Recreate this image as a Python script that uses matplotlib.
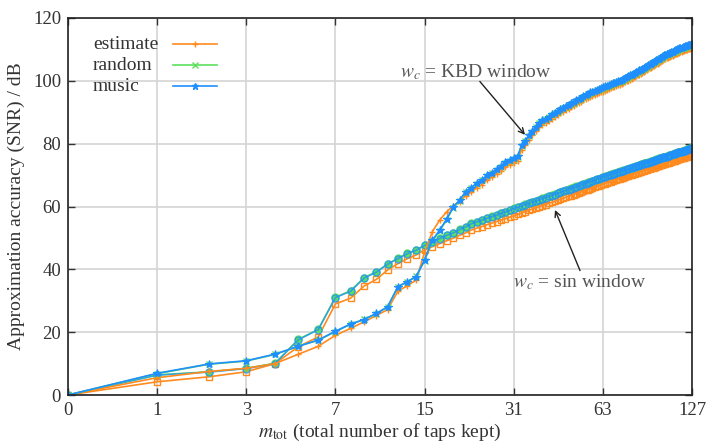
import numpy as np
import matplotlib
matplotlib.use("Agg")
import matplotlib.pyplot as plt
from matplotlib.lines import Line2D

plt.rcParams['font.family'] = ['Liberation Serif', 'DejaVu Serif']
plt.rcParams['mathtext.fontset'] = 'stix'

# number of taps kept, 0..127
m_tot = np.arange(128)
x_ticks = [0, 1, 3, 7, 15, 31, 63, 127]
y_ticks = [0, 20, 40, 60, 80, 100, 120]

# sin window
sin_random = [
    0.0, 6.4, 7.4, 8.5, 10.1, 17.7, 20.9, 31.1, 33.2, 37.4, 39.2, 41.7, 43.5, 45.1, 46.2, 47.7,
    48.8, 49.9, 50.9, 51.7, 52.7, 53.6, 54.6, 55.2, 55.8, 56.4, 56.9, 57.4, 57.9, 58.4, 58.9, 59.4,
    59.8, 60.2, 60.7, 61.1, 61.5, 61.8, 62.2, 62.6, 62.9, 63.3, 63.6, 63.9, 64.3, 64.6, 64.9, 65.2,
    65.5, 65.8, 66.1, 66.4, 66.6, 66.9, 67.2, 67.4, 67.7, 67.9, 68.2, 68.4, 68.7, 68.9, 69.1, 69.4,
    69.6, 69.8, 70.0, 70.2, 70.4, 70.6, 70.8, 71.0, 71.2, 71.3, 71.5, 71.7, 71.9, 72.0, 72.2, 72.4,
    72.6, 72.7, 72.9, 73.0, 73.2, 73.4, 73.5, 73.7, 73.8, 74.0, 74.1, 74.3, 74.4, 74.6, 74.7, 74.8,
    75.0, 75.1, 75.3, 75.4, 75.5, 75.7, 75.8, 75.9, 76.0, 76.2, 76.3, 76.4, 76.5, 76.7, 76.8, 76.9,
    77.0, 77.1, 77.3, 77.4, 77.5, 77.6, 77.7, 77.8, 77.9, 78.1, 78.2, 78.3, 78.4, 78.5, 78.6, 78.7,
]
sin_music = [
    0.0, 6.3, 7.3, 8.4, 10.0, 17.6, 20.8, 31.0, 33.0, 37.2, 39.1, 41.6, 43.4, 45.0, 46.1, 47.6,
    48.7, 49.8, 50.8, 51.6, 52.6, 53.5, 54.5, 55.1, 55.7, 56.3, 56.8, 57.3, 57.8, 58.3, 58.8, 59.3,
    59.7, 60.1, 60.6, 61.0, 61.4, 61.7, 62.1, 62.5, 62.8, 63.2, 63.5, 63.8, 64.2, 64.5, 64.8, 65.1,
    65.4, 65.7, 66.0, 66.3, 66.5, 66.8, 67.1, 67.3, 67.6, 67.8, 68.1, 68.3, 68.6, 68.8, 69.0, 69.3,
    69.5, 69.7, 69.9, 70.1, 70.3, 70.5, 70.7, 70.9, 71.1, 71.2, 71.4, 71.6, 71.8, 71.9, 72.1, 72.3,
    72.5, 72.6, 72.8, 72.9, 73.1, 73.3, 73.4, 73.6, 73.7, 73.9, 74.0, 74.2, 74.3, 74.5, 74.6, 74.7,
    74.9, 75.0, 75.2, 75.3, 75.4, 75.6, 75.7, 75.8, 75.9, 76.1, 76.2, 76.3, 76.4, 76.6, 76.7, 76.8,
    76.9, 77.0, 77.2, 77.3, 77.4, 77.5, 77.6, 77.7, 77.8, 78.0, 78.1, 78.2, 78.3, 78.4, 78.5, 78.6,
]
sin_estimate = [
    0.0, 4.2, 5.8, 7.4, 10.0, 15.4, 18.5, 29.0, 30.8, 34.7, 36.8, 39.8, 41.8, 43.4, 44.6, 46.2,
    47.2, 48.2, 49.1, 49.9, 50.8, 51.6, 52.5, 53.1, 53.6, 54.2, 54.7, 55.2, 55.7, 56.1, 56.6, 57.0,
    57.5, 57.9, 58.4, 58.8, 59.2, 59.5, 59.9, 60.3, 60.6, 61.0, 61.3, 61.6, 62.0, 62.3, 62.6, 62.9,
    63.2, 63.5, 63.8, 64.1, 64.3, 64.6, 64.9, 65.1, 65.4, 65.6, 65.9, 66.1, 66.4, 66.6, 66.8, 67.1,
    67.3, 67.5, 67.7, 67.9, 68.1, 68.3, 68.5, 68.7, 68.9, 69.0, 69.2, 69.4, 69.6, 69.7, 69.9, 70.1,
    70.3, 70.4, 70.6, 70.7, 70.9, 71.1, 71.2, 71.4, 71.5, 71.7, 71.8, 72.0, 72.1, 72.3, 72.4, 72.5,
    72.7, 72.8, 73.0, 73.1, 73.2, 73.4, 73.5, 73.6, 73.7, 73.9, 74.0, 74.1, 74.2, 74.4, 74.5, 74.6,
    74.7, 74.8, 75.0, 75.1, 75.2, 75.3, 75.4, 75.5, 75.6, 75.8, 75.9, 76.0, 76.1, 76.2, 76.3, 76.4,
]

# KBD window
kbd_music = [
    0.0, 6.9, 9.9, 10.9, 13.0, 15.5, 17.5, 20.3, 22.6, 24.0, 26.0, 28.0, 34.5, 36.1, 37.7, 43.0,
    49.3, 52.5, 56.0, 59.9, 62.0, 64.7, 66.0, 67.5, 68.5, 70.0, 70.8, 71.8, 72.8, 74.3, 74.8, 75.3,
    76.0, 79.5, 81.0, 82.6, 84.0, 85.4, 86.7, 87.4, 88.0, 88.6, 89.3, 89.9, 90.4, 91.0, 91.5, 92.0,
    92.4, 92.9, 93.3, 93.8, 94.2, 94.6, 95.1, 95.5, 95.9, 96.3, 96.6, 96.9, 97.2, 97.4, 97.7, 97.9,
    98.2, 98.4, 98.7, 98.9, 99.2, 99.4, 99.7, 99.9, 100.1, 100.3, 100.5, 100.8, 101.1, 101.4, 101.7, 102.0,
    102.3, 102.5, 102.8, 103.1, 103.3, 103.6, 103.9, 104.1, 104.4, 104.7, 105.0, 105.3, 105.5, 105.8, 106.1, 106.3,
    106.6, 106.8, 107.1, 107.3, 107.6, 107.8, 108.1, 108.3, 108.5, 108.7, 108.8, 109.0, 109.2, 109.3, 109.5, 109.7,
    109.8, 110.0, 110.1, 110.3, 110.4, 110.6, 110.7, 110.8, 111.0, 111.1, 111.2, 111.3, 111.4, 111.5, 111.7, 111.8,
]
kbd_random = [
    0.0, 6.8, 9.8, 10.8, 12.9, 15.6, 17.4, 20.2, 22.5, 24.1, 25.9, 28.1, 34.4, 36.0, 37.8, 42.8,
    49.0, 52.3, 55.8, 59.6, 61.8, 64.5, 65.8, 67.3, 68.3, 69.8, 70.6, 71.6, 72.6, 74.0, 74.6, 75.1,
    75.8, 79.3, 80.8, 82.4, 83.8, 85.2, 86.5, 87.2, 87.8, 88.4, 89.1, 89.7, 90.2, 90.8, 91.3, 91.8,
    92.2, 92.7, 93.1, 93.6, 94.0, 94.4, 94.9, 95.3, 95.7, 96.1, 96.4, 96.7, 97.0, 97.2, 97.5, 97.7,
    98.0, 98.2, 98.5, 98.7, 99.0, 99.2, 99.5, 99.7, 99.9, 100.1, 100.3, 100.6, 100.9, 101.2, 101.5, 101.8,
    102.1, 102.3, 102.6, 102.9, 103.1, 103.4, 103.7, 103.9, 104.2, 104.5, 104.8, 105.1, 105.3, 105.6, 105.9, 106.1,
    106.4, 106.6, 106.9, 107.1, 107.4, 107.6, 107.9, 108.1, 108.3, 108.5, 108.6, 108.8, 109.0, 109.1, 109.3, 109.5,
    109.6, 109.8, 109.9, 110.1, 110.2, 110.4, 110.5, 110.6, 110.8, 110.9, 111.0, 111.1, 111.2, 111.3, 111.5, 111.6,
]
kbd_estimate = [
    0.0, 5.5, 7.5, 8.5, 10.0, 13.0, 15.5, 19.0, 21.2, 23.3, 25.3, 27.2, 33.0, 34.8, 36.6, 45.5,
    52.0, 55.7, 58.3, 60.2, 61.5, 63.4, 64.6, 66.0, 67.0, 68.4, 69.3, 70.3, 71.3, 72.6, 73.3, 73.8,
    74.6, 78.0, 79.6, 81.2, 82.6, 84.0, 85.3, 86.0, 86.7, 87.3, 88.0, 88.6, 89.1, 89.7, 90.2, 90.7,
    91.1, 91.6, 92.0, 92.5, 92.9, 93.3, 93.8, 94.2, 94.6, 95.0, 95.3, 95.6, 95.9, 96.1, 96.4, 96.6,
    96.9, 97.1, 97.4, 97.6, 97.9, 98.1, 98.4, 98.6, 98.8, 99.0, 99.2, 99.5, 99.8, 100.1, 100.4, 100.7,
    101.0, 101.2, 101.5, 101.8, 102.0, 102.3, 102.6, 102.8, 103.1, 103.4, 103.7, 104.0, 104.2, 104.5, 104.8, 105.0,
    105.3, 105.5, 105.8, 106.0, 106.3, 106.5, 106.8, 107.0, 107.2, 107.4, 107.5, 107.7, 107.9, 108.0, 108.2, 108.4,
    108.5, 108.7, 108.8, 109.0, 109.1, 109.3, 109.4, 109.5, 109.7, 109.8, 109.9, 110.0, 110.1, 110.2, 110.4, 110.5,
]

c_est = '#ff8a1e'
c_rnd = '#5ee05e'
c_mus = '#1f8fff'
txt = '#333333'
fs = 14

fig = plt.figure(figsize=(7.06, 4.46), dpi=100)
ax = fig.add_axes([68 / 706, 1 - 395 / 446, 624 / 706, 377 / 446])
ax.set_xscale('function', functions=(lambda v: np.log2(np.asarray(v) + 1.0),
                                     lambda v: 2.0 ** np.asarray(v) - 1.0))

lw = 1.2
# sin window curves
ax.plot(m_tot, sin_estimate, color=c_est, lw=lw, marker='s', ms=4.5, mfc='none', mew=1.0)
ax.plot(m_tot, sin_random, color=c_rnd, lw=lw, marker='o', ms=5, mfc=c_rnd, mew=1.0)
ax.plot(m_tot, sin_music, color=c_mus, lw=lw, marker='o', ms=5, mfc='none', mew=1.0, alpha=0.75)
# KBD window curves
ax.plot(m_tot, kbd_estimate, color=c_est, lw=lw, marker='+', ms=5, mew=1.0)
ax.plot(m_tot, kbd_random, color=c_rnd, lw=lw, marker='x', ms=4.5, mew=1.0)
ax.plot(m_tot, kbd_music, color=c_mus, lw=lw, marker='*', ms=6, mew=0.8)

ax.set_xlim(0, 127)
ax.set_ylim(0, 120)
ax.set_xticks(x_ticks)
ax.set_xticklabels([str(t) for t in x_ticks])
ax.set_yticks(y_ticks)
ax.minorticks_off()
ax.grid(True, color='#d4d4d4', lw=1.2)
ax.set_axisbelow(True)
ax.tick_params(direction='in', length=5, width=1, top=True, right=True,
               labelsize=13.5, colors=txt, pad=5)
for s in ax.spines.values():
    s.set_linewidth(1.2)
    s.set_color('#222222')

ax.set_xlabel(r'$m_{\mathrm{tot}}$ (total number of taps kept)', fontsize=fs, color=txt, labelpad=2)
ax.set_ylabel('Approximation accuracy (SNR) / dB', fontsize=fs, color=txt, labelpad=6)

# legend, text first then line sample
leg_names = ['estimate', 'random', 'music']
leg_cols = [c_est, c_rnd, c_mus]
leg_marks = ['+', 'x', '*']
for i, (nm, cc, mk) in enumerate(zip(leg_names, leg_cols, leg_marks)):
    yy = 0.931 - i * 0.0557
    ax.text(0.040, yy, nm, transform=ax.transAxes, fontsize=fs, va='center', ha='left', color=txt)
    ax.add_line(Line2D([0.168, 0.239], [yy, yy], transform=ax.transAxes, color=cc, lw=lw))
    ax.add_line(Line2D([0.2035], [yy], transform=ax.transAxes, color=cc, marker=mk, ms=5, mew=1.0))

# annotations (positions given in log2(m+1) units, mapped back to m)
ax.text(2 ** 4.577 - 1, 102.8, r'$w_c$ = KBD window', fontsize=fs, color='#555555', ha='center', va='center')
ax.annotate('', xy=(2 ** 5.127 - 1, 82.8), xytext=(2 ** 4.62 - 1, 99.8),
            arrowprops=dict(arrowstyle='->', color='#222222', lw=1.0, shrinkA=0, shrinkB=0))
ax.text(2 ** 5.744 - 1, 36.0, r'$w_c$ = sin window', fontsize=fs, color='#555555', ha='center', va='center')
ax.annotate('', xy=(2 ** 5.463 - 1, 58.9), xytext=(2 ** 5.744 - 1, 39.6),
            arrowprops=dict(arrowstyle='->', color='#222222', lw=1.0, shrinkA=0, shrinkB=0))

fig.savefig('out.png', dpi=100)
